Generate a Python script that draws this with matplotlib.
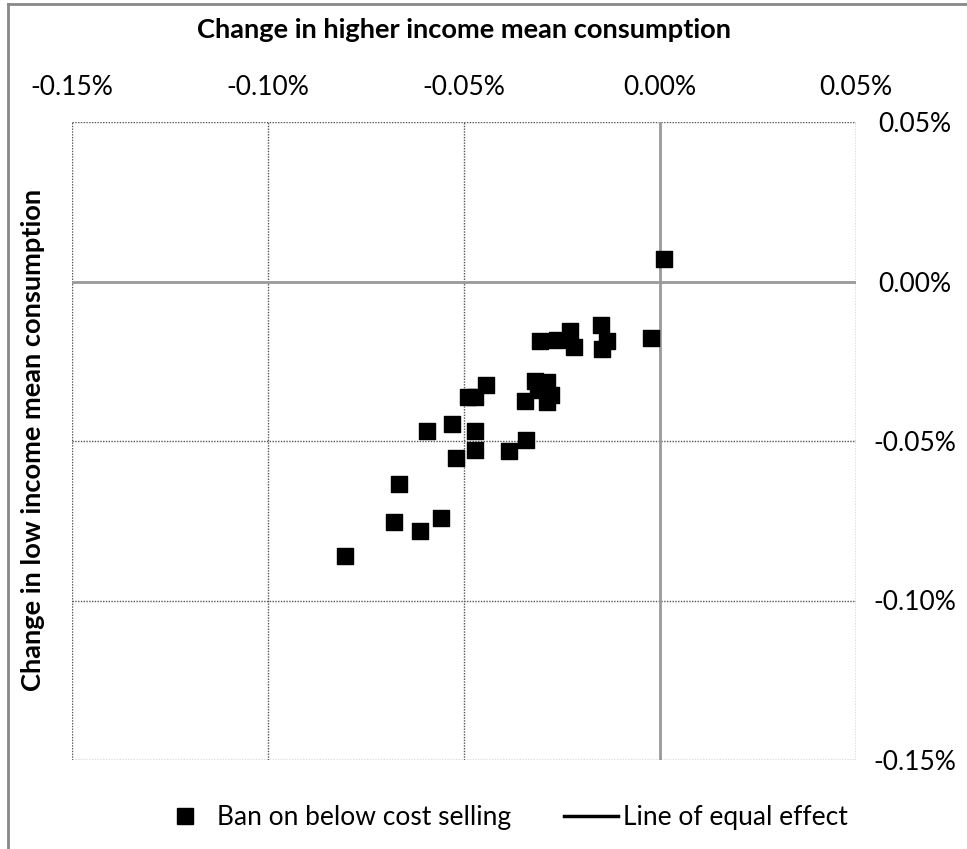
import matplotlib
matplotlib.use("Agg")
import matplotlib.pyplot as plt
from matplotlib.lines import Line2D
from matplotlib.ticker import FuncFormatter

plt.rcParams['font.family'] = ['Lato', 'DejaVu Sans']

# Change in mean consumption (%) under a ban on below-cost selling
higher_income = [0.0009, -0.0022, -0.0151, -0.0136, -0.0148, -0.0229, -0.0219,
                 -0.0264, -0.0306, -0.0319, -0.0289, -0.0312, -0.0277, -0.0345,
                 -0.0289, -0.0445, -0.0490, -0.0472, -0.0594, -0.0530, -0.0473,
                 -0.0343, -0.0386, -0.0472, -0.0521, -0.0665, -0.0678, -0.0611,
                 -0.0558, -0.0803]
low_income = [0.0069, -0.0176, -0.0136, -0.0185, -0.0211, -0.0156, -0.0206,
              -0.0182, -0.0188, -0.0313, -0.0316, -0.0339, -0.0355, -0.0376,
              -0.0378, -0.0323, -0.0361, -0.0363, -0.0469, -0.0448, -0.0470,
              -0.0498, -0.0531, -0.0527, -0.0553, -0.0636, -0.0755, -0.0783,
              -0.0742, -0.0860]

x_ticks = [-0.15, -0.10, -0.05, 0.00, 0.05]
y_ticks = [-0.15, -0.10, -0.05, 0.00, 0.05]

fig = plt.figure(figsize=(9.67, 8.49), dpi=100)
ax = fig.add_axes([72 / 967, 1 - 760 / 849, (856 - 72) / 967, (760 - 122) / 849])

ax.set_xlim(x_ticks[0], x_ticks[-1])
ax.set_ylim(y_ticks[0], y_ticks[-1])
ax.set_xticks(x_ticks)
ax.set_yticks(y_ticks)

pct = FuncFormatter(lambda v, p: f"{v:.2f}%")
ax.xaxis.set_major_formatter(pct)
ax.yaxis.set_major_formatter(pct)

ax.xaxis.set_ticks_position('top')
ax.yaxis.set_ticks_position('right')
ax.tick_params(axis='x', length=0, pad=15.5, labelsize=19, colors='black')
ax.tick_params(axis='y', length=0, pad=42, labelsize=19, colors='black')
for lbl in ax.get_yticklabels():
    lbl.set_horizontalalignment('center')

for s in ax.spines.values():
    s.set_visible(False)

# dotted grid, frame on the outer grid lines
for v in x_ticks:
    if v != 0:
        ax.axvline(v, color='#555555', lw=1.0, ls=(0, (1, 1)), zorder=1)
for v in y_ticks:
    if v != 0:
        ax.axhline(v, color='#555555', lw=1.0, ls=(0, (1, 1)), zorder=1)

# solid zero axes
ax.axhline(0, color='#999999', lw=2.0, zorder=1.5)
ax.axvline(0, color='#999999', lw=2.0, zorder=1.5)

ax.scatter(higher_income, low_income, marker='s', s=120, color='black',
           zorder=3, label='Ban on below cost selling')

fig.text(464 / 967, 1 - 30 / 849, 'Change in higher income mean consumption',
         fontsize=19.6, fontweight='bold', ha='center', va='center')
fig.text(33 / 967, 1 - 440 / 849, 'Change in low income mean consumption',
         rotation=90, fontsize=19.6, fontweight='bold', ha='center', va='center')

handles = [
    Line2D([], [], marker='s', ls='none', color='black', markersize=11,
           label='Ban on below cost selling'),
    Line2D([], [], color='black', lw=2.5, label='Line of equal effect'),
]
fig.legend(handles=handles, loc='center', bbox_to_anchor=(503 / 967, 1 - 818 / 849),
           ncol=2, frameon=False, fontsize=19, handlelength=2.05,
           handletextpad=0.2, columnspacing=2.0, borderpad=0, borderaxespad=0)

# outer chart border
fig.add_artist(Line2D([8 / 967, 8 / 967], [0, 1 - 4 / 849], transform=fig.transFigure,
                      color='#888888', lw=2))
fig.add_artist(Line2D([8 / 967, 1], [1 - 4 / 849, 1 - 4 / 849], transform=fig.transFigure,
                      color='#888888', lw=2))

fig.savefig('out.png', dpi=100, facecolor='white')
